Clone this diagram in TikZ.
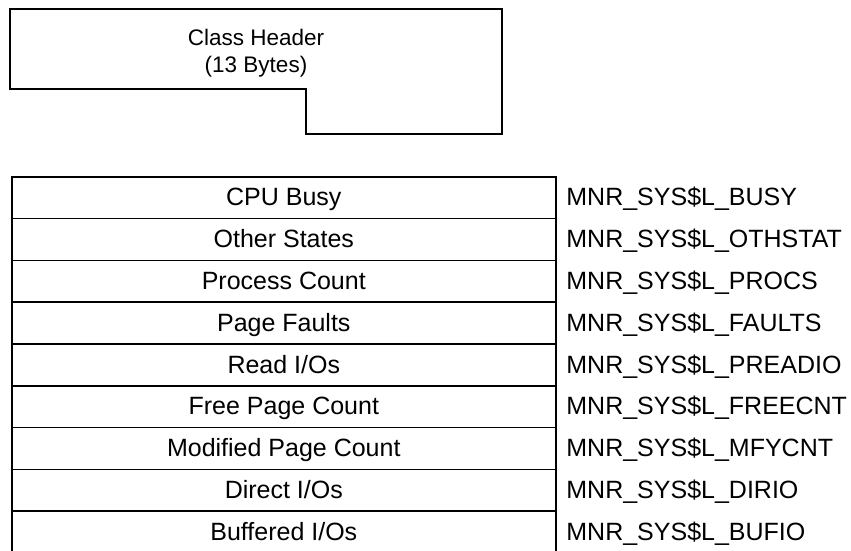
\documentclass[tikz,border=0pt]{standalone}
\usepackage{fontspec}
\setmainfont{Liberation Sans}
\begin{document}
\begin{tikzpicture}[x=1pt,y=-1pt,
  line width=1.6pt,
  cell/.style={draw, minimum width=544pt, minimum height=41.7pt, inner sep=0pt, anchor=north west,
    text height=17pt, text depth=0.5pt, font=\fontsize{25}{29}\selectfont},
  fieldname/.style={anchor=west, inner sep=0pt, text height=17pt, text depth=0.5pt,
    font=\fontsize{25}{29}\selectfont},
  hdrtext/.style={align=center, font=\fontsize{22.5}{27}\selectfont, inner sep=0pt}]
\useasboundingbox (0,0) rectangle (851,550);
% header
\draw[line join=miter] (10,9) -- (502,9) -- (502,134) -- (306,134) -- (306,89) -- (10,89) -- cycle;
\node[hdrtext] (hdr) at (256,53) {Class Header\\(13 Bytes)};
% rows
\foreach \i/\txt/\fld in {0/{CPU Busy}/BUSY,1/{Other States}/OTHSTAT,2/{Process Count}/PROCS,
  3/{Page Faults}/FAULTS,4/{Read I/Os}/PREADIO,5/{Free Page Count}/FREECNT,
  6/{Modified Page Count}/MFYCNT,7/{Direct I/Os}/DIRIO,8/{Buffered I/Os}/BUFIO}{
  \node[cell] (row\i) at (11,{176+\i*41.8}) {\txt};
  \node[fieldname] (fld\i) at ([xshift=9pt]row\i.east) {MNR\_SYS\$L\_\fld};
}
\end{tikzpicture}
\end{document}
